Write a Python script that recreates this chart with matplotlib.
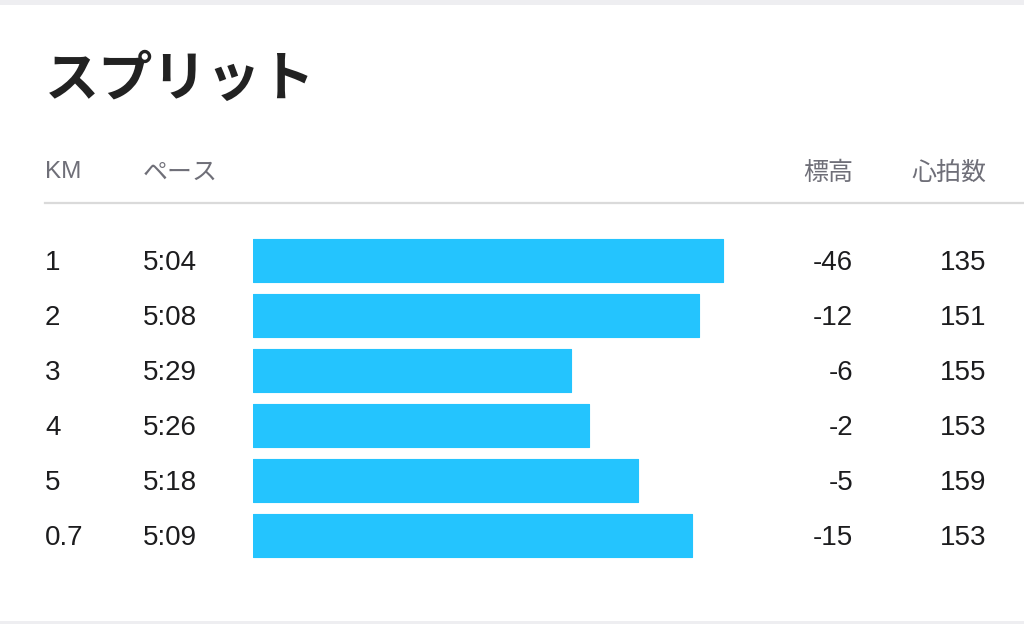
import matplotlib
matplotlib.use('Agg')
import matplotlib.pyplot as plt
import matplotlib.transforms as mtransforms
from matplotlib.patches import Rectangle

plt.rcParams['font.family'] = ['Liberation Sans', 'Noto Sans CJK JP', 'DejaVu Sans']

# datos
km = ['1', '2', '3', '4', '5', '0.7']
pace = ['5:04', '5:08', '5:29', '5:26', '5:18', '5:09']
elevation = [-46, -12, -6, -2, -5, -15]
heart_rate = [135, 151, 155, 153, 159, 153]

title = 'スプリット'
headers = ['KM', 'ペース', '標高', '心拍数']

# colores
fondo = 'white'
gris_borde = '#eeeef1'
gris_linea = '#dadada'
texto = '#1c1c1e'
texto_header = '#6f6f78'
barra = '#24c4fe'

W, H = 1024, 624
pace_ref = 381.4        # pace (s) where a bar would have zero length
px_per_sec = 6.07


def fx(px):
    return px / W


def fy(py):
    return 1 - py / H


pace_sec = [int(p.split(':')[0]) * 60 + int(p.split(':')[1]) for p in pace]
bar_len = [pace_ref - s for s in pace_sec]

fig = plt.figure(figsize=(W / 100, H / 100), dpi=100)
fig.set_facecolor(fondo)

# bordes de la tarjeta
fig.patches.append(Rectangle((0, fy(5)), 1, 5 / H, transform=fig.transFigure,
                             facecolor=gris_borde, edgecolor='none'))
fig.patches.append(Rectangle((0, 0), 1, 3 / H, transform=fig.transFigure,
                             facecolor=gris_borde, edgecolor='none'))

# titulo
fig.text(fx(45), fy(80), title, fontsize=39, fontweight='bold', color='#222222',
         family=['Noto Sans CJK JP'], ha='left', va='center')

# encabezados
fig.text(fx(45), fy(170), headers[0], fontsize=17.5, color=texto_header,
         ha='left', va='center_baseline')
fig.text(fx(143), fy(170), headers[1], fontsize=18, color=texto_header,
         family=['Noto Sans CJK JP'], ha='left', va='center_baseline')
fig.text(fx(853), fy(170), headers[2], fontsize=18, color=texto_header,
         family=['Noto Sans CJK JP'], ha='right', va='center_baseline')
fig.text(fx(986), fy(170), headers[3], fontsize=18, color=texto_header,
         family=['Noto Sans CJK JP'], ha='right', va='center_baseline')

fig.add_artist(plt.Line2D([fx(45), 1], [fy(203), fy(203)], color=gris_linea,
                          linewidth=1.6, transform=fig.transFigure))

# barras
ax_w = 500
ax = fig.add_axes([fx(253), fy(562.5), ax_w / W, 330 / H])
rows = list(range(len(km)))
ax.barh(rows, bar_len, height=43 / 55, left=0, color=barra,
        edgecolor=barra, linewidth=0.8, joinstyle='round')
ax.set_xlim(0, ax_w / px_per_sec)
ax.set_ylim(len(km) - 0.5, -0.5)
ax.axis('off')

trans = mtransforms.blended_transform_factory(fig.transFigure, ax.transData)
for i in rows:
    ax.text(fx(45), i, km[i], fontsize=20, color=texto, transform=trans,
            ha='left', va='center_baseline')
    ax.text(fx(143), i, pace[i], fontsize=20, color=texto, transform=trans,
            ha='left', va='center_baseline')
    ax.text(fx(853), i, str(elevation[i]), fontsize=20, color=texto, transform=trans,
            ha='right', va='center_baseline')
    ax.text(fx(986), i, str(heart_rate[i]), fontsize=20, color=texto, transform=trans,
            ha='right', va='center_baseline')

fig.savefig('out.png', dpi=100, facecolor=fondo)
plt.close(fig)
